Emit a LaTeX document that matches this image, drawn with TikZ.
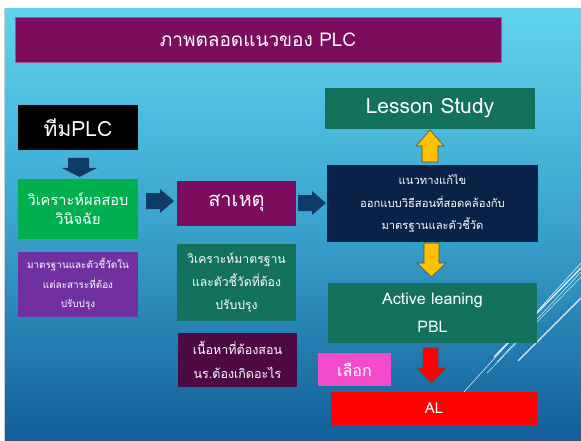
\documentclass[tikz,border=0pt]{standalone}
\usepackage{fontspec}
\setmainfont[Script=Thai]{Loma}
\definecolor{bgtop}{RGB}{96,211,238}
\definecolor{bgmid}{RGB}{58,163,206}
\definecolor{bgbot}{RGB}{18,94,152}
\definecolor{plum}{RGB}{123,12,94}
\definecolor{okgreen}{RGB}{0,176,80}
\definecolor{violet}{RGB}{112,48,160}
\definecolor{teal}{RGB}{19,113,92}
\definecolor{wine}{RGB}{77,10,66}
\definecolor{navy}{RGB}{10,33,72}
\definecolor{pinkbox}{RGB}{240,76,204}
\definecolor{gold}{RGB}{255,192,0}
\definecolor{arrowblue}{RGB}{15,60,102}
\tikzset{
  box/.style={inner sep=0pt, text=white, align=center},
  fsz/.style={font=\fontsize{#1}{#1}\selectfont},
  deco/.style={white, opacity=0.85},
  blockarrow/.style={line width=0.6pt, line join=miter}
}
\begin{document}
\begin{tikzpicture}[x=1pt,y=-1pt]
\useasboundingbox (0,0) rectangle (581,441);
\fill[white] (0,0) rectangle (581,441);
\fill[gray!40] (4,9) rectangle (5,441);
\shade[top color=bgtop, bottom color=bgbot, middle color=bgmid] (5,9) rectangle (581,441);
% decorative lines
\draw[deco, line width=0.6pt] (463,393) -- (581,263);
\draw[deco, line width=1.3pt] (494,357) -- (581,268);
\draw[deco, line width=0.5pt] (487,373) -- (581,277);
\draw[deco, line width=0.5pt] (497,362) -- (581,272);
\draw[deco, line width=1.2pt] (518,361) -- (581,298);
% boxes
\node[box, fill=plum, draw=plum!70!white, line width=0.5pt, minimum width=486pt, minimum height=45pt, fsz=19] (title) at (258,39.5) {ภาพตลอดแนวของ PLC};
\node[box, fill=black, minimum width=120pt, minimum height=45pt, fsz=21] (team) at (78,127.5) {ทีมPLC};
\node[box, fill=okgreen, minimum width=120pt, minimum height=60pt, font=\fontsize{14.6}{19}\selectfont] (diag) at (78,209) {วิเคราะห์ผลสอบ\\วินิจฉัย};
\node[box, fill=plum, minimum width=119pt, minimum height=45pt, fsz=20] (cause) at (236.5,203.5) {สาเหตุ};
\node[box, fill=violet, minimum width=120pt, minimum height=65pt, font=\fontsize{9.9}{19.5}\selectfont] (std) at (78,284.5) {มาตรฐานและตัวชี้วัดใน\\แต่ละสาระที่ต้อง\\ปรับปรุง};
\node[box, fill=teal, minimum width=119pt, minimum height=77pt, font=\fontsize{12.2}{23}\selectfont] (anal) at (236.5,282.5) {วิเคราะห์มาตรฐาน\\และตัวชี้วัดที่ต้อง\\ปรับปรุง};
\node[box, fill=wine, minimum width=119pt, minimum height=54pt, font=\fontsize{12.5}{24}\selectfont] (content) at (237.5,360) {เนื้อหาที่ต้องสอน\\นร.ต้องเกิดอะไร};
\node[box, fill=teal, minimum width=210pt, minimum height=41pt, fsz=21] (lesson) at (430,108.5) {Lesson Study};
\node[box, fill=navy, minimum width=211pt, minimum height=77pt, font=\fontsize{11.2}{22.5}\selectfont] (sol) at (432.5,203.5) {แนวทางแก้ไข\\ออกแบบวิธีสอนที่สอดคล้องกับ\\มาตรฐานและตัวชี้วัด};
\node[box, fill=teal, minimum width=209pt, minimum height=60pt, font=\fontsize{16}{28}\selectfont] (active) at (432.5,313) {Active leaning\\PBL};
\node[box, fill=pinkbox, minimum width=73pt, minimum height=33pt, fsz=16] (choose) at (354.5,369.5) {เลือก};
\node[box, fill=red, minimum width=206pt, minimum height=33pt, fsz=15] (al) at (434,408.5) {AL};
% block arrows
\fill[arrowblue] (68,158) -- (89,158) -- (89,168) -- (97,168) -- (79.5,177) -- (62,168) -- (68,168) -- cycle;
\fill[arrowblue] (146,193) -- (160,193) -- (160,189) -- (174,201) -- (160,213) -- (160,209) -- (146,209) -- cycle;
\fill[arrowblue] (298,195) -- (312,195) -- (312,191) -- (326,203) -- (312,215) -- (312,211) -- (298,211) -- cycle;
\filldraw[blockarrow, fill=gold, draw=black!70] (422,162) -- (438,162) -- (438,146) -- (444,146) -- (430,130) -- (416,146) -- (422,146) -- cycle;
\filldraw[blockarrow, fill=gold, draw=black!70] (424,243) -- (439,243) -- (439,263) -- (446,263) -- (431.5,277) -- (417,263) -- (424,263) -- cycle;
\filldraw[blockarrow, fill=red, draw=black!70] (423,348) -- (438,348) -- (438,368) -- (446,368) -- (431.5,383) -- (417,368) -- (423,368) -- cycle;
\end{tikzpicture}
\end{document}
